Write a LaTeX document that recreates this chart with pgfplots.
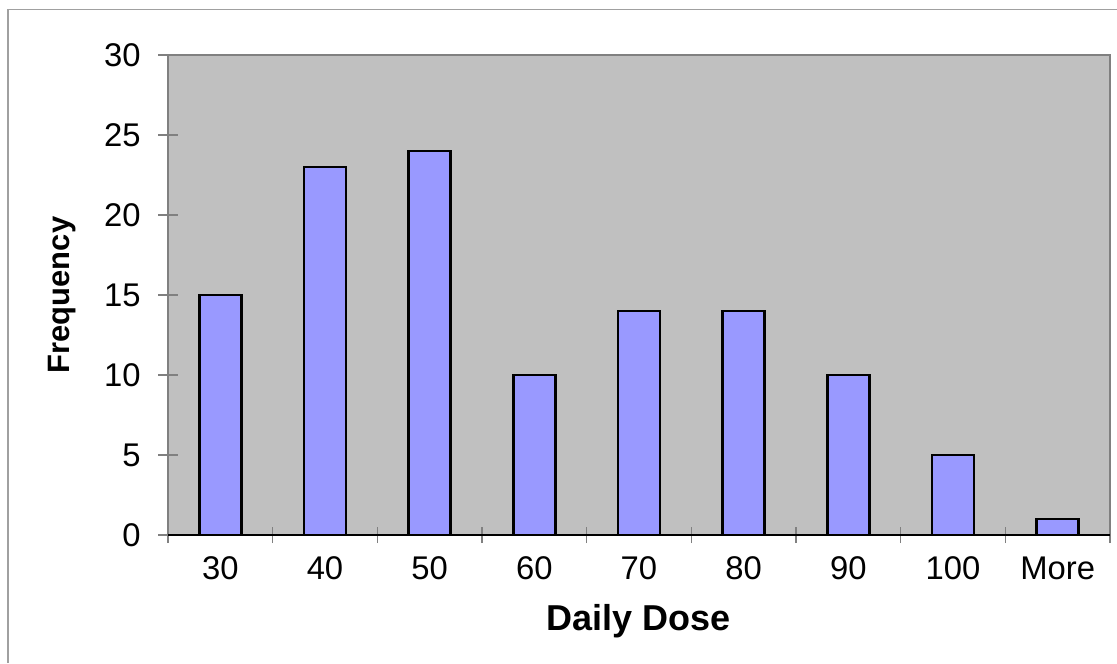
\documentclass[border=0pt]{standalone}
\usepackage{pgfplots}
\pgfplotsset{compat=1.18}
\usepackage{fontspec}
\setmainfont{Liberation Sans}
\definecolor{plotbg}{RGB}{192,192,192}
\definecolor{barfill}{RGB}{153,153,255}
\definecolor{frame}{RGB}{160,160,160}
\definecolor{boxgray}{RGB}{128,128,128}
\begin{document}
\begin{tikzpicture}
\useasboundingbox (0pt,0pt) rectangle (418.875pt,248.625pt);
\draw[frame, line width=0.6pt] (3pt,0pt) -- (3pt,245pt) -- (418.875pt,245pt);
\begin{axis}[
  at={(63pt,48pt)}, anchor=south west,
  scale only axis, width=353.25pt, height=180pt,
  xmin=-0.5, xmax=8.5, ymin=0, ymax=30,
  ytick={0,5,...,30},
  xtick={0,...,8},
  xticklabels={30,40,50,60,70,80,90,100,More},
  minor xtick={-0.5,0.5,...,8.5},
  xtick pos=bottom, ytick pos=left,
  major x tick style={draw=none},
  minor x tick style={draw=boxgray, line width=0.5pt},
  minor tick length=6pt,
  y tick style={draw=boxgray, line width=0.5pt},
  major tick length=7.5pt,
  tick align=center,
  axis line style={draw=boxgray, line width=0.75pt},
  axis background/.style={fill=plotbg},
  /pgf/number format/assume math mode=true,
  tick label style={font=\fontsize{12.3}{14.5}\selectfont},
  xticklabel style={anchor=center, yshift=-8.65pt},
  yticklabel style={anchor=east, inner sep=0pt, xshift=-6.35pt},
  xlabel={Daily Dose}, ylabel={Frequency},
  xlabel style={font=\bfseries\fontsize{13.5}{16}\selectfont, at={(axis description cs:0.5,-0.179)}, anchor=center},
  ylabel style={font=\bfseries\fontsize{11.6}{14}\selectfont, at={(axis description cs:-0.1125,0.5)}, anchor=center},
  clip=false,
]
\addplot[ybar, bar width=0.4, fill=barfill, draw=black, line width=1pt]
  coordinates {(0,15) (1,23) (2,24) (3,10) (4,14) (5,14) (6,10) (7,5) (8,1)};
\draw[black, line width=0.6pt] (axis cs:-0.5,0) -- (axis cs:8.5,0);
\end{axis}
\end{tikzpicture}
\end{document}
